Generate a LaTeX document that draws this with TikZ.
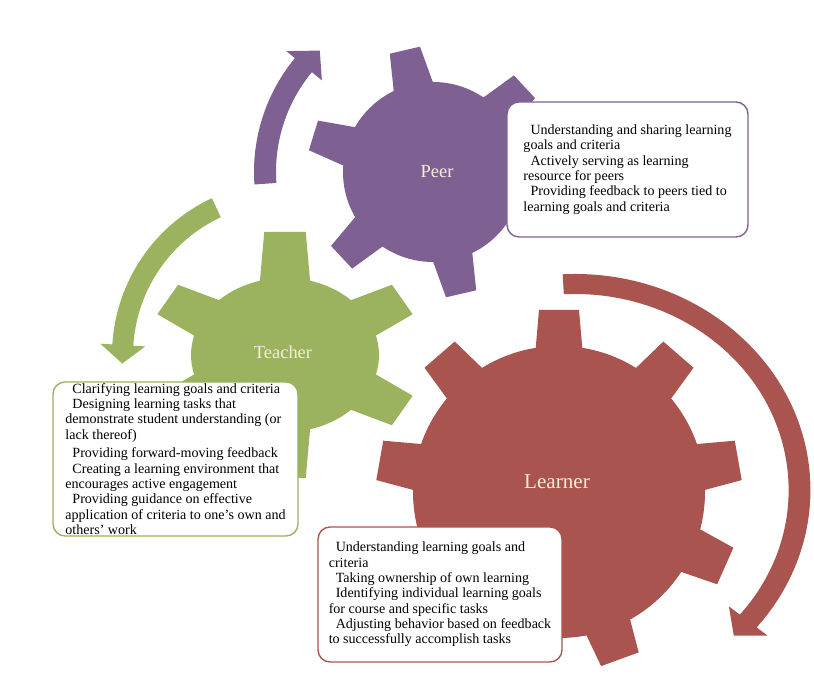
\documentclass[tikz,border=0pt]{standalone}
\usepackage{fontspec}
\setmainfont{Liberation Serif}
\usepackage{xcolor}
\usetikzlibrary{positioning, calc}
\definecolor{peercol}{HTML}{7E6192}
\definecolor{teachcol}{HTML}{9BB25E}
\definecolor{learncol}{HTML}{AA5450}
\definecolor{labelcol}{HTML}{F3EDDA}

\begin{document}
\begin{tikzpicture}[
    x=0.02cm, y=0.02cm,
    infobox/.style={rectangle, rounded corners=0.24cm, draw, line width=0.8pt, fill=white, align=left, inner sep=0pt, font=\fontsize{8pt}{8.7pt}\selectfont},
    gearlabel/.style={text=labelcol, font=\fontsize{10.5pt}{12pt}\selectfont}
]
    \useasboundingbox (0,0) rectangle (814,675);

    % curved arrows
    \fill[peercol, shift={(433,503)}] (184:179) arc[start angle=184, end angle=140.5, radius=179] -- (140.5:190) -- (133:166) -- (140.5:144) -- (140.5:157) arc[start angle=140.5, end angle=184, radius=157] -- cycle;
    \fill[teachcol, shift={(285,320)}] (115:173) arc[start angle=115, end angle=176.5, radius=173] -- (176.5:185) -- (183:163) -- (176.5:140) -- (176.5:152) arc[start angle=176.5, end angle=115, radius=152] -- cycle;
    \begin{scope}[shift={(575,185)}, xscale=1.09]
        \fill[learncol] (93:216) arc[start angle=93, end angle=-39.5, radius=216] -- (-39.5:229) -- (-45:206) -- (-39.5:183) -- (-39.5:196) arc[start angle=-39.5, end angle=93, radius=196] -- cycle;
    \end{scope}

    % gears
    \begin{scope}[shift={(433,503)}]
        \fill[peercol] (0,0) circle (90);
        \foreach \a in {43,103,...,343}
            \fill[peercol, rotate=\a] (80,-21) -- (125,-15.5) -- (125,15.5) -- (80,21) -- cycle;
    \end{scope}
    \begin{scope}[shift={(285,320)}, xscale=1.22]
        \fill[teachcol] (0,0) circle (77);
        \foreach \a/\r in {30/111, 90/123, 150/111, 210/111, 270/123, 330/111}
            \fill[teachcol, rotate=\a] (68,-21) -- (\r,-17) -- (\r,17) -- (68,21) -- cycle;
    \end{scope}
    \begin{scope}[shift={(559,183)}]
        \fill[learncol] (0,0) circle (146);
        \foreach \a/\r in {90/182, 49/182, 10/182, -24/182, -70/178, -110/170, -156/176, 170/182, 131/182}
            \fill[learncol, rotate=\a] (136,-24) -- (\r,-20) -- (\r,20) -- (136,24) -- cycle;
    \end{scope}

    \node[gearlabel] (peer) at (437,503) {Peer};
    \node[gearlabel] (teacher) at (283,323) {Teacher};
    \node[gearlabel, font=\fontsize{12pt}{14pt}\selectfont] (learner) at (557,193) {Learner};

    % text boxes
    \node[infobox, draw=peercol, minimum width=4.82cm, minimum height=2.7cm] (peerbox) at (627.5,505.5) {%
        \hspace*{4pt}Understanding and sharing learning\\
        goals and criteria\\
        \hspace*{4pt}Actively serving as learning\\
        resource for peers\\
        \hspace*{4pt}Providing feedback to peers tied to\\
        learning goals and criteria};
    \node[infobox, draw=teachcol, minimum width=4.9cm, minimum height=3.08cm] (teacherbox) at (175.5,216) {%
        \hspace*{4pt}Clarifying learning goals and criteria\\
        \hspace*{4pt}Designing learning tasks that\\
        demonstrate student understanding (or\\
        lack thereof)\\[2pt]
        \hspace*{4pt}Providing forward-moving feedback\\
        \hspace*{4pt}Creating a learning environment that\\
        encourages active engagement\\
        \hspace*{4pt}Providing guidance on effective\\
        application of criteria to one's own and\\
        others' work};
    \node[infobox, draw=learncol, minimum width=4.88cm, minimum height=2.7cm] (learnerbox) at (440,80.5) {%
        \hspace*{4pt}Understanding learning goals and\\
        criteria\\
        \hspace*{4pt}Taking ownership of own learning\\
        \hspace*{4pt}Identifying individual learning goals\\
        for course and specific tasks\\
        \hspace*{4pt}Adjusting behavior based on feedback\\
        to successfully accomplish tasks};
\end{tikzpicture}
\end{document}
